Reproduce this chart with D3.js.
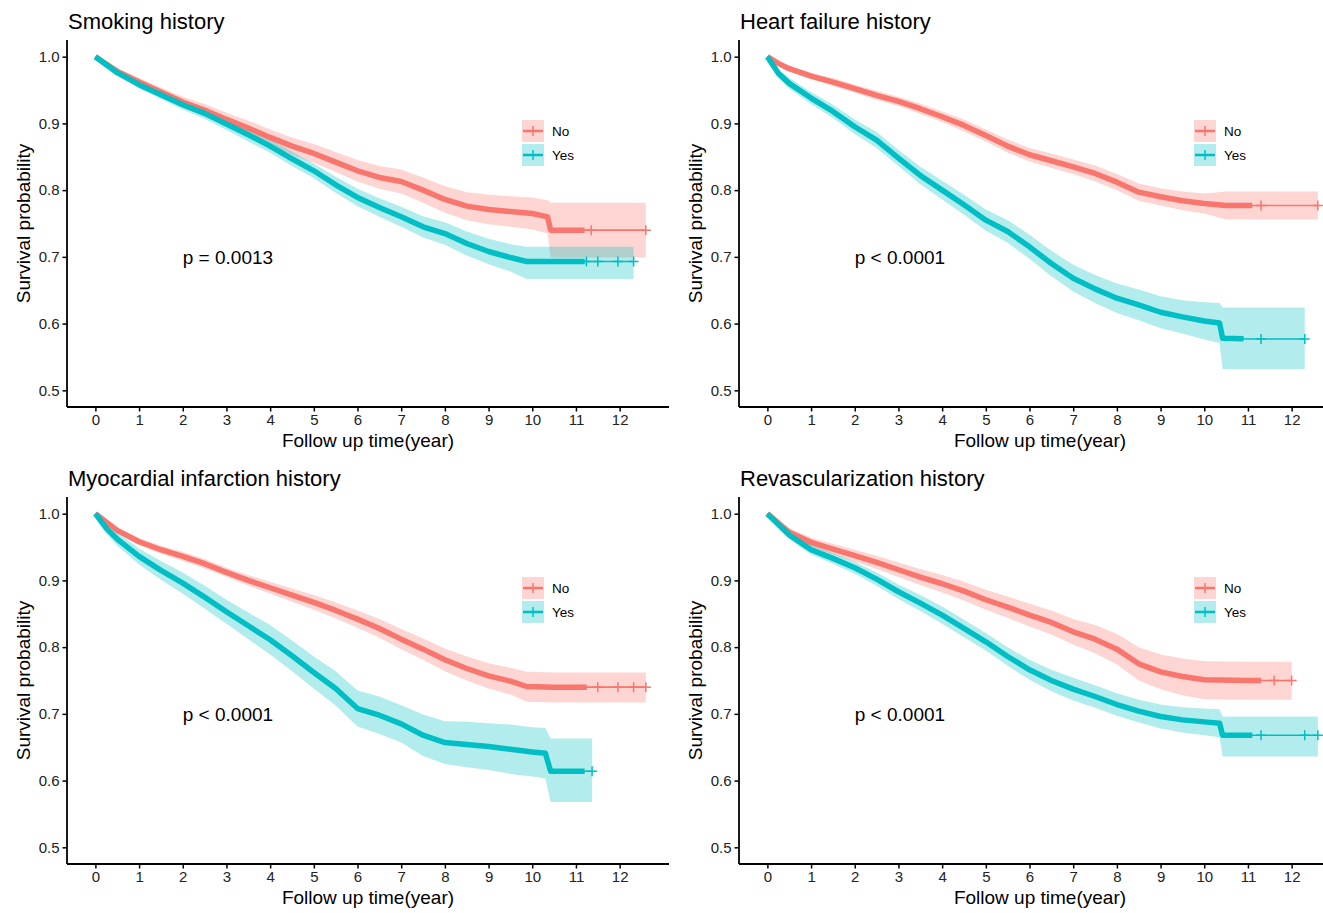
<!DOCTYPE html>
<html>
<head>
<meta charset="utf-8">
<script src="https://cdn.jsdelivr.net/npm/d3@7"></script>
<style>
  body { margin: 0; background: #fff; }
  text { font-family: "Liberation Sans", Arial, sans-serif; }
</style>
</head>
<body>
<svg id="chart" width="1323" height="913"></svg>
<script>
// ---- data ----
const titles = ["Smoking history", "Heart failure history", "Myocardial infarction history", "Revascularization history"];
const pLabels = ["p = 0.0013", "p < 0.0001", "p < 0.0001", "p < 0.0001"];
const groups = ["No", "Yes"];
const xTicks = [0, 1, 2, 3, 4, 5, 6, 7, 8, 9, 10, 11, 12];
const yTicks = [0.5, 0.6, 0.7, 0.8, 0.9, 1.0];

// Smoking
const smkNoT  = [0,0.5,1,1.5,2,2.5,3,3.5,4,4.5,5,5.5,6,6.5,7,7.5,8,8.5,9,9.5,10,10.35,10.42,11,12,12.6];
const smkNoS  = [1.0,0.978,0.962,0.947,0.932,0.92,0.906,0.893,0.879,0.866,0.855,0.842,0.829,0.819,0.813,0.800,0.786,0.776,0.771,0.768,0.765,0.760,0.740,0.740,0.740,0.740];
const smkNoLo = [1.0,0.973,0.956,0.940,0.924,0.911,0.896,0.882,0.867,0.853,0.841,0.827,0.813,0.802,0.795,0.781,0.766,0.755,0.749,0.745,0.741,0.735,0.699,0.699,0.699,0.699];
const smkNoHi = [1.0,0.983,0.968,0.954,0.940,0.929,0.916,0.904,0.891,0.879,0.869,0.857,0.845,0.836,0.831,0.819,0.806,0.797,0.793,0.791,0.789,0.785,0.781,0.781,0.781,0.781];
const smkNoCens = [11.35, 12.6];
const smkYesT  = [0,0.5,1,1.5,2,2.5,3,3.5,4,4.5,5,5.5,6,6.5,7,7.5,8,8.5,9,9.5,9.87,10.5,11,11.5,12,12.32];
const smkYesS  = [1.0,0.976,0.958,0.943,0.928,0.915,0.899,0.883,0.866,0.847,0.829,0.808,0.789,0.774,0.760,0.745,0.735,0.720,0.708,0.699,0.693,0.693,0.693,0.693,0.693,0.693];
const smkYesLo = [1.0,0.972,0.953,0.937,0.921,0.907,0.890,0.873,0.856,0.836,0.818,0.796,0.776,0.760,0.745,0.729,0.718,0.702,0.689,0.678,0.667,0.667,0.667,0.667,0.667,0.667];
const smkYesHi = [1.0,0.980,0.963,0.949,0.935,0.923,0.908,0.893,0.876,0.858,0.840,0.820,0.802,0.788,0.775,0.761,0.752,0.738,0.727,0.719,0.715,0.715,0.715,0.715,0.715,0.715];
const smkYesCens = [11.24, 11.5, 11.96, 12.32];

// Heart failure
const hfNoT  = [0,0.25,0.5,1,1.5,2,2.5,3,3.5,4,4.5,5,5.5,6,6.5,7,7.5,8,8.5,9,9.5,10,10.5,11,12,12.6];
const hfNoS  = [1.0,0.990,0.982,0.971,0.962,0.952,0.942,0.933,0.922,0.910,0.897,0.882,0.866,0.853,0.844,0.835,0.825,0.812,0.797,0.790,0.784,0.780,0.777,0.777,0.777,0.777];
const hfNoLo = [1.0,0.987,0.978,0.966,0.956,0.946,0.935,0.926,0.914,0.902,0.888,0.873,0.856,0.843,0.833,0.824,0.813,0.800,0.784,0.777,0.770,0.765,0.756,0.756,0.756,0.756];
const hfNoHi = [1.0,0.993,0.986,0.976,0.968,0.958,0.949,0.940,0.930,0.918,0.906,0.891,0.876,0.863,0.855,0.846,0.837,0.824,0.810,0.803,0.798,0.795,0.798,0.798,0.798,0.798];
const hfNoCens = [11.3, 12.6];
const hfYesT  = [0,0.25,0.5,1,1.5,2,2.5,3,3.5,4,4.5,5,5.5,6,6.5,7,7.5,8,8.5,9,9.5,10,10.35,10.42,11,12,12.3];
const hfYesS  = [1.0,0.975,0.960,0.938,0.918,0.895,0.875,0.848,0.822,0.800,0.778,0.755,0.738,0.715,0.690,0.668,0.652,0.638,0.628,0.617,0.610,0.604,0.601,0.578,0.577,0.577,0.577];
const hfYesLo = [1.0,0.969,0.952,0.929,0.908,0.884,0.863,0.836,0.809,0.786,0.763,0.739,0.721,0.697,0.671,0.648,0.631,0.616,0.605,0.593,0.585,0.576,0.571,0.532,0.532,0.532,0.532];
const hfYesHi = [1.0,0.981,0.968,0.947,0.928,0.906,0.887,0.860,0.835,0.814,0.793,0.771,0.755,0.733,0.709,0.688,0.673,0.660,0.651,0.641,0.635,0.632,0.631,0.624,0.624,0.624,0.624];
const hfYesCens = [11.3, 12.3];

// Myocardial infarction
const miNoT  = [0,0.5,1,1.5,2,2.5,3,3.5,4,4.5,5,5.5,6,6.5,7,7.5,8,8.5,9,9.5,9.87,10.5,11,12,12.6];
const miNoS  = [1.0,0.975,0.958,0.946,0.936,0.925,0.912,0.900,0.889,0.878,0.867,0.855,0.842,0.828,0.812,0.797,0.781,0.768,0.757,0.749,0.741,0.740,0.740,0.740,0.740];
const miNoLo = [1.0,0.971,0.953,0.940,0.929,0.918,0.905,0.892,0.880,0.868,0.856,0.843,0.829,0.814,0.797,0.781,0.764,0.750,0.738,0.729,0.718,0.717,0.717,0.717,0.717];
const miNoHi = [1.0,0.979,0.963,0.952,0.943,0.932,0.919,0.908,0.898,0.888,0.878,0.867,0.855,0.842,0.827,0.813,0.798,0.786,0.776,0.769,0.763,0.762,0.762,0.762,0.762];
const miNoCens = [11.5, 11.96, 12.32, 12.6];
const miYesT  = [0,0.25,0.5,1,1.5,2,2.5,3,3.5,4,4.5,5,5.5,6,6.5,7,7.5,8,8.5,9,9.5,10,10.3,10.42,11,11.37];
const miYesS  = [1.0,0.978,0.962,0.936,0.915,0.896,0.875,0.853,0.832,0.811,0.787,0.762,0.738,0.708,0.698,0.685,0.668,0.657,0.654,0.651,0.647,0.643,0.641,0.614,0.614,0.614];
const miYesLo = [1.0,0.970,0.952,0.924,0.901,0.880,0.858,0.835,0.812,0.789,0.764,0.738,0.712,0.681,0.670,0.657,0.637,0.625,0.620,0.616,0.610,0.606,0.603,0.568,0.568,0.568];
const miYesHi = [1.0,0.986,0.972,0.948,0.929,0.912,0.892,0.871,0.852,0.833,0.810,0.786,0.764,0.735,0.726,0.713,0.699,0.689,0.688,0.686,0.684,0.680,0.679,0.663,0.663,0.663];
const miYesCens = [11.37];

// Revascularization
const rvNoT  = [0,0.5,1,1.5,2,2.5,3,3.5,4,4.5,5,5.5,6,6.5,7,7.5,8,8.5,9,9.5,10,11,12];
const rvNoS  = [1.0,0.972,0.957,0.947,0.937,0.927,0.916,0.905,0.895,0.884,0.871,0.860,0.848,0.837,0.823,0.812,0.797,0.775,0.763,0.756,0.751,0.750,0.750];
const rvNoLo = [1.0,0.966,0.950,0.939,0.928,0.917,0.905,0.893,0.882,0.870,0.856,0.844,0.831,0.819,0.804,0.791,0.774,0.750,0.737,0.728,0.722,0.721,0.721];
const rvNoHi = [1.0,0.978,0.964,0.955,0.946,0.937,0.927,0.917,0.908,0.898,0.886,0.876,0.865,0.855,0.842,0.833,0.820,0.800,0.789,0.783,0.779,0.778,0.778];
const rvNoCens = [11.6, 12.0];
const rvYesT  = [0,0.5,1,1.5,2,2.5,3,3.5,4,4.5,5,5.5,6,6.5,7,7.5,8,8.5,9,9.5,10,10.35,10.42,11,12,12.6];
const rvYesS  = [1.0,0.968,0.946,0.933,0.919,0.902,0.883,0.866,0.848,0.828,0.808,0.786,0.766,0.750,0.737,0.726,0.714,0.704,0.696,0.691,0.688,0.686,0.668,0.668,0.668,0.668];
const rvYesLo = [1.0,0.962,0.939,0.925,0.910,0.892,0.872,0.854,0.835,0.815,0.795,0.772,0.751,0.734,0.720,0.709,0.697,0.687,0.678,0.672,0.668,0.665,0.636,0.636,0.636,0.636];
const rvYesHi = [1.0,0.974,0.953,0.941,0.928,0.912,0.894,0.878,0.861,0.841,0.821,0.800,0.781,0.766,0.754,0.743,0.731,0.721,0.714,0.710,0.708,0.707,0.696,0.696,0.696,0.696];
const rvYesCens = [11.3, 12.3, 12.6];

// time up to which the censor marks are so dense the curve looks thick
const denseUntil = [[11.2, 11.2], [11.1, 10.9], [11.25, 11.2], [11.3, 11.1]];

const colors = ["#F8766D", "#00BFC4"];

function series(t, s, lo, hi, cens) {
  return { pts: t.map((d, i) => ({ t: d, s: s[i], lo: lo[i], hi: hi[i] })), cens: cens };
}
const panels = [
  [series(smkNoT, smkNoS, smkNoLo, smkNoHi, smkNoCens), series(smkYesT, smkYesS, smkYesLo, smkYesHi, smkYesCens)],
  [series(hfNoT, hfNoS, hfNoLo, hfNoHi, hfNoCens), series(hfYesT, hfYesS, hfYesLo, hfYesHi, hfYesCens)],
  [series(miNoT, miNoS, miNoLo, miNoHi, miNoCens), series(miYesT, miYesS, miYesLo, miYesHi, miYesCens)],
  [series(rvNoT, rvNoS, rvNoLo, rvNoHi, rvNoCens), series(rvYesT, rvYesS, rvYesLo, rvYesHi, rvYesCens)]
];
const offsets = [[0, 0], [672, 0], [0, 457], [672, 457]];

// ---- layout ----
const plotL = 67, plotR = 669, plotT = 40, plotB = 407;
const x = d3.scaleLinear().domain([-0.65, 13.13]).range([plotL, plotR]);
const y = d3.scaleLinear().domain([0.475, 1.025]).range([plotB, plotT]);

const svg = d3.select("#chart");

function interp(pts, t) {
  // survival at time t along the drawn polyline
  for (let i = 1; i < pts.length; i++) {
    if (t <= pts[i].t) {
      const a = pts[i - 1], b = pts[i];
      const f = (t - a.t) / (b.t - a.t || 1);
      return a.s + f * (b.s - a.s);
    }
  }
  return pts[pts.length - 1].s;
}

panels.forEach((pan, pi) => {
  const g = svg.append("g").attr("transform", `translate(${offsets[pi][0]},${offsets[pi][1]})`);

  // title
  g.append("text").attr("x", 68).attr("y", 29)
    .attr("font-size", 22).attr("fill", "#000").text(titles[pi]);

  // bands
  pan.forEach((ser, si) => {
    g.append("path").datum(ser.pts)
      .attr("d", d3.area().x(d => x(d.t)).y0(d => y(d.lo)).y1(d => y(d.hi)))
      .attr("fill", colors[si]).attr("fill-opacity", 0.3);
  });

  // curves
  pan.forEach((ser, si) => {
    const line = d3.line().x(d => x(d.t)).y(d => y(d.s));
    g.append("path").datum(ser.pts).attr("d", line)
      .attr("fill", "none").attr("stroke", colors[si]).attr("stroke-width", 1.6);
    const lim = denseUntil[pi][si];
    const dense = ser.pts.filter(d => d.t <= lim);
    dense.push({ t: lim, s: interp(ser.pts, lim) });
    g.append("path").datum(dense).attr("d", line)
      .attr("fill", "none").attr("stroke", colors[si]).attr("stroke-width", 5.5)
      .attr("stroke-linejoin", "round");
    // censor marks in the sparse tail
    g.selectAll(null).data(ser.cens).join("path")
      .attr("d", d => {
        const cx = x(d), cy = y(interp(ser.pts, d));
        return `M${cx - 5},${cy}H${cx + 5}M${cx},${cy - 5}V${cy + 5}`;
      })
      .attr("stroke", colors[si]).attr("stroke-width", 1.5);
  });

  // axes
  const xa = g.append("g").attr("transform", `translate(0,${plotB})`)
    .call(d3.axisBottom(x).tickValues(xTicks).tickSize(4.5).tickPadding(3).tickFormat(d3.format("d")));
  const ya = g.append("g").attr("transform", `translate(${plotL},0)`)
    .call(d3.axisLeft(y).tickValues(yTicks).tickSize(4.5).tickPadding(3).tickFormat(d3.format(".1f")));
  [xa, ya].forEach(a => {
    a.select(".domain").attr("stroke", "#000").attr("stroke-width", 1.8);
    a.selectAll(".tick line").attr("stroke", "#000").attr("stroke-width", 1.5);
    a.selectAll(".tick text").attr("fill", "#222").attr("font-size", 15)
      .attr("font-family", '"Liberation Sans", Arial, sans-serif');
  });
  xa.select(".domain").attr("d", `M${plotL},0H${plotR}`);
  ya.select(".domain").attr("d", `M0,${plotB}V${plotT}`);

  g.append("text").attr("x", (plotL + plotR) / 2).attr("y", 447)
    .attr("text-anchor", "middle").attr("font-size", 19).attr("fill", "#000")
    .text("Follow up time(year)");
  g.append("text").attr("transform", `translate(29.5,${(plotT + plotB) / 2}) rotate(-90)`)
    .attr("text-anchor", "middle").attr("font-size", 19).attr("fill", "#000")
    .text("Survival probability");

  // p value
  g.append("text").attr("x", x(2)).attr("y", y(0.7)).attr("dy", "0.35em")
    .attr("font-size", 19).attr("fill", "#000").text(pLabels[pi]);

  // legend
  const lg = g.append("g").attr("transform", "translate(522,120)");
  groups.forEach((name, i) => {
    const row = lg.append("g").attr("transform", `translate(0,${i * 24})`);
    row.append("rect").attr("width", 22).attr("height", 22)
      .attr("fill", colors[i]).attr("fill-opacity", 0.3);
    row.append("path").attr("d", "M1,11H21").attr("stroke", colors[i]).attr("stroke-width", 2.5);
    row.append("path").attr("d", "M11,6V16").attr("stroke", colors[i]).attr("stroke-width", 1.5);
    row.append("text").attr("x", 30).attr("y", 11).attr("dy", "0.35em")
      .attr("font-size", 13.5).attr("fill", "#000").text(name);
  });
});
</script>
</body>
</html>
